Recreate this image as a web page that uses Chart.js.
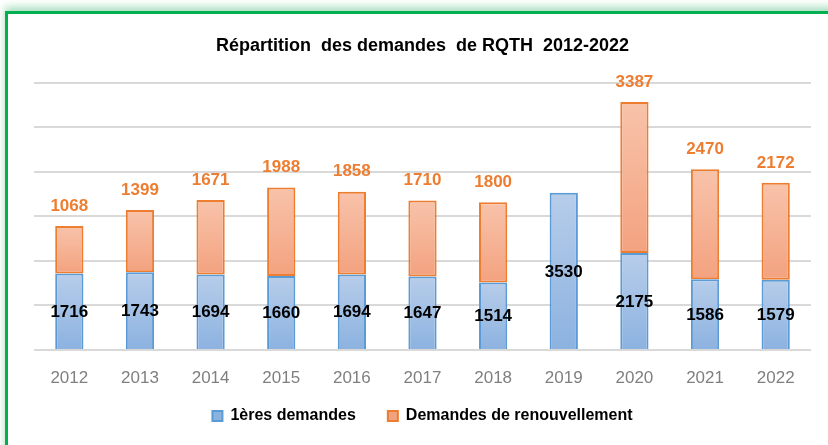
<!DOCTYPE html>
<html>
<head>
<meta charset="utf-8">
<script src="https://cdn.jsdelivr.net/npm/chart.js@4"></script>
<style>
  html, body { margin: 0; padding: 0; background: #fff; overflow: hidden; }
  #frame {
    position: absolute; left: 5px; top: 11px; width: 900px; height: 500px;
    border: 3px solid #00b050;
    box-shadow: 0 -4px 8px rgba(0, 160, 70, 0.35);
  }
  #wrap { position: absolute; left: 0; top: 0; width: 828px; height: 445px; }
</style>
</head>
<body>
<div id="frame"></div>
<div id="wrap"><canvas id="chart" width="828" height="445"></canvas></div>
<script>
// values
const years = ["2012", "2013", "2014", "2015", "2016", "2017", "2018", "2019", "2020", "2021", "2022"];
const premieres = [1716, 1743, 1694, 1660, 1694, 1647, 1514, 3530, 2175, 1586, 1579];
const renouvellements = [1068, 1399, 1671, 1988, 1858, 1710, 1800, null, 3387, 2470, 2172];

const FONT = "'Liberation Sans', Arial, sans-serif";

// vertical gradient for each bar segment, like the Excel fill
function segmentGradient(ctx, light, dark, solid) {
    if (ctx.type !== "data") return solid;
    const chart = ctx.chart;
    const y = chart.scales.y;
    if (!y) return solid;
    const i = ctx.dataIndex;
    let bottom = 0, top = premieres[i];
    if (ctx.datasetIndex === 1) {
        bottom = premieres[i];
        top = premieres[i] + (renouvellements[i] || 0);
    }
    const y0 = y.getPixelForValue(top);
    const y1 = y.getPixelForValue(bottom);
    if (!isFinite(y0) || !isFinite(y1) || y0 === y1) return solid;
    const g = chart.ctx.createLinearGradient(0, y0, 0, y1);
    g.addColorStop(0, light);
    g.addColorStop(1, dark);
    return g;
}

// values inside blue segments, orange values above the stacks
const valueLabels = {
    id: "valueLabels",
    afterLayout(chart) {
        // x axis is squeezed in afterFit; let its labels draw past the box
        chart.scales.x.bottom = chart.height;
    },
    afterDatasetsDraw(chart) {
        const ctx = chart.ctx;
        ctx.save();
        ctx.textAlign = "center";
        ctx.textBaseline = "middle";
        ctx.font = "bold 17px " + FONT;
        chart.getDatasetMeta(0).data.forEach((bar, i) => {
            ctx.fillStyle = "#000";
            ctx.fillText(premieres[i], bar.x, (bar.y + bar.base) / 2 + 1);
        });
        chart.getDatasetMeta(1).data.forEach((bar, i) => {
            if (renouvellements[i] == null) return;
            ctx.fillStyle = "#ed7d31";
            ctx.fillText(renouvellements[i], bar.x, bar.y - 20);
        });
        ctx.restore();
    }
};

const chart = new Chart(document.getElementById("chart"), {
    type: "bar",
    data: {
        labels: years,
        datasets: [
            {
                label: "1ères demandes",
                data: premieres,
                backgroundColor: c => segmentGradient(c, "#b7cdea", "#8cb2e0", "#a3c0e6"),
                borderColor: "#5b9bd5",
                borderWidth: 2,
                barPercentage: 0.8,
                categoryPercentage: 0.5
            },
            {
                label: "Demandes de renouvellement",
                data: renouvellements,
                backgroundColor: c => segmentGradient(c, "#f8c3aa", "#f3a27f", "#f5b091"),
                borderColor: "#ed7d31",
                borderWidth: 2,
                borderSkipped: false,
                barPercentage: 0.8,
                categoryPercentage: 0.5
            }
        ]
    },
    options: {
        responsive: false,
        animation: false,
        layout: { padding: { left: 34, right: 17, top: 0, bottom: 11 } },
        scales: {
            x: {
                stacked: true,
                grid: { display: false },
                border: { display: false },
                ticks: { color: "#7f7f7f", font: { family: FONT, size: 17 }, padding: 10 },
                afterFit: scale => { scale.height = 26; }
            },
            y: {
                stacked: true,
                min: 0,
                max: 6000,
                ticks: { display: false, stepSize: 1000 },
                border: { display: false },
                grid: { color: "#d9d9d9", lineWidth: 2, drawTicks: false }
            }
        },
        plugins: {
            title: {
                display: true,
                text: "Répartition  des demandes  de RQTH  2012-2022",
                color: "#000",
                font: { family: FONT, size: 18, weight: "bold" },
                padding: { top: 35, bottom: 26 }
            },
            legend: {
                position: "bottom",
                labels: {
                    color: "#000",
                    font: { family: FONT, size: 16, weight: "bold" },
                    boxWidth: 10,
                    boxHeight: 10,
                    padding: 32
                }
            },
            tooltip: { enabled: false }
        }
    },
    plugins: [valueLabels]
});
</script>
</body>
</html>
